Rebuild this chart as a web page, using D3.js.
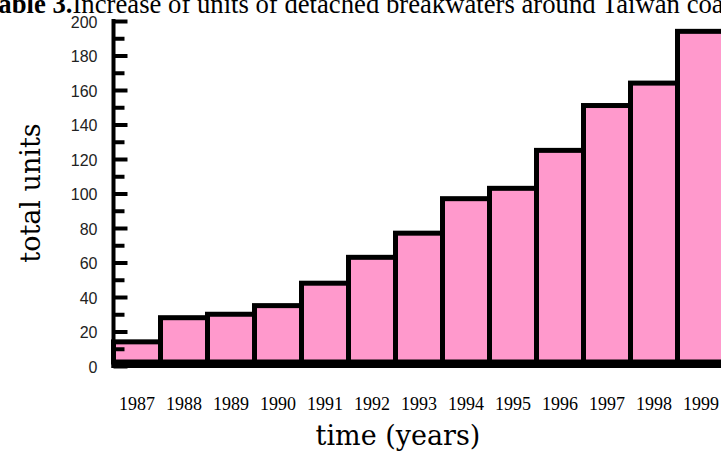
<!DOCTYPE html>
<html>
<head>
<meta charset="utf-8">
<script src="https://cdn.jsdelivr.net/npm/d3@7"></script>
<style>
  body { margin: 0; background: #fff; }
  svg { display: block; }
  .yTick text { font-family: "Liberation Sans", Arial, sans-serif; font-size: 16px; fill: #222; }
  .xLabel { font-family: "Liberation Serif", "Times New Roman", serif; font-size: 18px; fill: #000; }
  .aText { font-family: "DejaVu Serif", serif; fill: #000; }
  .title { font-family: "Liberation Serif", "Times New Roman", serif; font-size: 26.7px; fill: #000; }
</style>
</head>
<body>
<div id="chart"></div>
<script>
var years = ["1987", "1988", "1989", "1990", "1991", "1992", "1993",
  "1994", "1995", "1996", "1997", "1998", "1999"];
var totalUnits = [14, 28, 30, 35, 48, 63, 77, 97, 103, 125, 151, 164, 194];
var majorTicks = [0, 20, 40, 60, 80, 100, 120, 140, 160, 180, 200];
var minorTicks = [10, 30, 50, 70, 90, 110, 130, 150, 170, 190];

var width = 721;
var height = 462;

var svg = d3.select("#chart").append("svg")
  .attr("width", width)
  .attr("height", height);

var xScale = d3.scaleBand()
  .domain(years)
  .range([113.5, 724.5])
  .padding(0);

var yScale = d3.scaleLinear()
  .domain([0, 200])
  .range([366, 21]);

// title, cut off at the top and at both sides like the scan
svg.append("text")
  .attr("class", "title")
  .attr("x", -17)
  .attr("y", 13)
  .call(function (t) {
    t.append("tspan").attr("font-weight", "bold").text("Table 3.");
    t.append("tspan").text("Increase of units of detached breakwaters around Taiwan coast");
  });

// bars
svg.selectAll("rect.bar")
  .data(totalUnits)
  .enter()
  .append("rect")
  .attr("class", "bar")
  .attr("x", function (d, i) { return xScale(years[i]); })
  .attr("y", function (d) { return yScale(d); })
  .attr("width", xScale.bandwidth())
  .attr("height", function (d) { return yScale(0) - 4 - yScale(d); })
  .attr("fill", "#ff99cc")
  .attr("stroke", "#000")
  .attr("stroke-width", 5);

// x axis line
svg.append("line")
  .attr("x1", 111.5)
  .attr("x2", width)
  .attr("y1", yScale(0))
  .attr("y2", yScale(0))
  .attr("stroke", "#000")
  .attr("stroke-width", 4);

// minor ticks
var minorAxis = d3.axisLeft(yScale)
  .tickValues(minorTicks)
  .tickSizeInner(-11)
  .tickSizeOuter(0)
  .tickFormat("");

svg.append("g")
  .attr("transform", "translate(113.5,0)")
  .call(minorAxis)
  .call(function (g) {
    g.select(".domain").remove();
    g.selectAll("line").attr("stroke", "#000").attr("stroke-width", 4);
  });

// major ticks with labels
var yAxis = d3.axisLeft(yScale)
  .tickValues(majorTicks)
  .tickSizeInner(-14)
  .tickSizeOuter(0)
  .tickPadding(16);

svg.append("g")
  .attr("class", "yTick")
  .attr("transform", "translate(113.5,0)")
  .call(yAxis)
  .call(function (g) {
    g.select(".domain").attr("stroke", "#000").attr("stroke-width", 4)
      .attr("d", "M0," + (yScale(200) - 2) + "V" + (yScale(0) + 2));
    g.selectAll("line").attr("stroke", "#000").attr("stroke-width", 4);
    g.selectAll("text").attr("font-family", null).attr("font-size", null).attr("dy", "0.4em");
  });

// year labels
svg.selectAll("text.xLabel")
  .data(years)
  .enter()
  .append("text")
  .attr("class", "xLabel")
  .attr("x", function (d) { return xScale(d) + xScale.bandwidth() / 2; })
  .attr("y", 410)
  .attr("text-anchor", "middle")
  .text(function (d) { return d; });

// axis titles
svg.append("text")
  .attr("class", "aText")
  .attr("font-size", 27)
  .attr("text-anchor", "middle")
  .attr("transform", "translate(40,193)rotate(-90)")
  .text("total units");

svg.append("text")
  .attr("class", "aText")
  .attr("font-size", 27)
  .attr("text-anchor", "middle")
  .attr("x", 398)
  .attr("y", 445)
  .text("time (years)");
</script>
</body>
</html>
